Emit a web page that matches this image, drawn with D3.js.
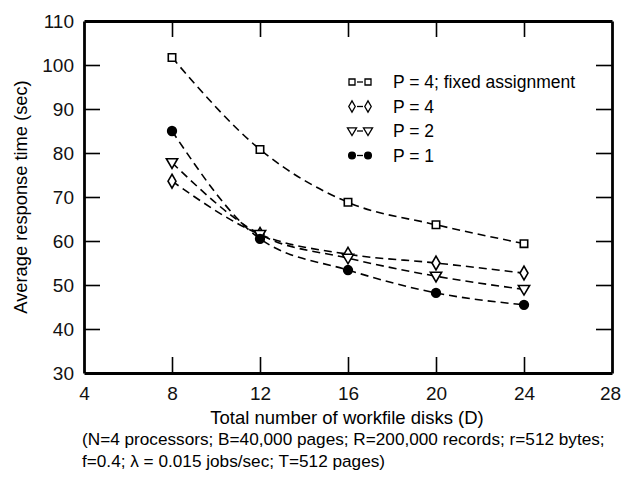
<!DOCTYPE html>
<html>
<head>
<meta charset="utf-8">
<script src="https://cdn.jsdelivr.net/npm/d3@7"></script>
<style>
  body { margin: 0; background: #fff; }
  svg { font-family: "Liberation Sans", Arial, Helvetica, sans-serif; }
  .frame text { font-size: 19px; fill: #111; }
</style>
</head>
<body>
<svg id="main" width="621" height="481"></svg>
<script>
var disks = [8, 12, 16, 20, 24];
var fixedP4 = [101.7, 80.8, 68.8, 63.7, 59.4];
var p4 = [73.6, 61.5, 57.0, 55.0, 52.7];
var p2 = [77.8, 61.5, 56.1, 52.0, 49.0];
var p1 = [85.0, 60.5, 53.4, 48.2, 45.5];
var seriesNames = ["P = 4; fixed assignment", "P = 4", "P = 2", "P = 1"];
var xTicks = [4, 8, 12, 16, 20, 24, 28];
var yTicks = [30, 40, 50, 60, 70, 80, 90, 100, 110];

var margin = {top: 21, right: 9, bottom: 108, left: 84};
var svg = d3.select("#main"),
    width = +svg.attr("width") - margin.left - margin.right,
    height = +svg.attr("height") - margin.top - margin.bottom;

var xScale = d3.scaleLinear().domain([4, 28]).range([0, width]),
    yScale = d3.scaleLinear().domain([30, 110]).range([height, 0]),
    g = svg.append("g")
        .attr("transform", "translate(" + margin.left + "," + margin.top + ")");

function styleFrame(a) {
    a.select(".domain").attr("stroke", "#000").attr("stroke-width", 2.8);
    a.selectAll(".tick line").attr("stroke", "#000").attr("stroke-width", 1.6);
}

// frame: axes with inward ticks on all four sides
g.append("g")
    .attr("class", "frame")
    .attr("transform", "translate(0," + height + ")")
    .call(d3.axisBottom(xScale).tickValues(xTicks).tickSizeInner(-16).tickSizeOuter(0).tickPadding(14))
    .call(styleFrame)
    .call(function(a) {
        a.selectAll(".tick line").filter(function(d) { return d == 4 || d == 28; }).remove();
        a.selectAll(".tick text").filter(function(d) { return d == 28; }).attr("dx", "-2");
    });

g.append("g")
    .attr("class", "frame")
    .call(d3.axisLeft(yScale).tickValues(yTicks).tickSizeInner(-16).tickSizeOuter(0).tickPadding(10))
    .call(styleFrame)
    .call(function(a) { a.selectAll(".tick line").filter(function(d) { return d == 30 || d == 110; }).remove(); });

g.append("g")
    .attr("class", "frame")
    .call(d3.axisTop(xScale).tickValues(xTicks.slice(1, -1)).tickSizeInner(-16).tickSizeOuter(0).tickFormat(""))
    .call(styleFrame);

g.append("g")
    .attr("class", "frame")
    .attr("transform", "translate(" + width + ",0)")
    .call(d3.axisRight(yScale).tickValues(yTicks.slice(1, -1)).tickSizeInner(-16).tickSizeOuter(0).tickFormat(""))
    .call(styleFrame);

// axis titles
svg.append("text")
    .attr("x", 347)
    .attr("y", 424)
    .attr("text-anchor", "middle")
    .style("font-size", "18.5px")
    .text("Total number of workfile disks (D)");

svg.append("text")
    .attr("transform", "translate(27,197) rotate(-90)")
    .attr("text-anchor", "middle")
    .style("font-size", "18.3px")
    .text("Average response time (sec)");

var caption = ["(N=4 processors; B=40,000 pages; R=200,000 records; r=512 bytes;",
               "f=0.4; \u03bb = 0.015 jobs/sec; T=512 pages)"];
svg.selectAll(".caption")
    .data(caption)
    .enter().append("text")
    .attr("class", "caption")
    .attr("x", 82)
    .attr("y", function(d, i) { return 445 + i * 22; })
    .style("font-size", "17.2px")
    .text(function(d) { return d; });

// series
var triDown = {
    draw: function(ctx, size) {
        var s = Math.sqrt(size / 0.433) / 2;
        ctx.moveTo(-s, -s * 0.7);
        ctx.lineTo(s, -s * 0.7);
        ctx.lineTo(0, s * 1.0);
        ctx.closePath();
    }
};
var series = [
    {name: seriesNames[0], values: fixedP4, sym: d3.symbolSquare, size: 55, fill: "#fff"},
    {name: seriesNames[1], values: p4, sym: d3.symbolDiamond, size: 55, fill: "#fff"},
    {name: seriesNames[2], values: p2, sym: triDown, size: 55, fill: "#fff"},
    {name: seriesNames[3], values: p1, sym: d3.symbolCircle, size: 60, fill: "#000"}
];

var line = d3.line()
    .x(function(d, i) { return xScale(disks[i]); })
    .y(function(d) { return yScale(d); })
    .curve(d3.curveMonotoneX);

series.forEach(function(s) {
    g.append("path")
        .attr("class", "line")
        .attr("d", line(s.values))
        .attr("fill", "none")
        .attr("stroke", "#000")
        .attr("stroke-width", 1.6)
        .attr("stroke-dasharray", "8,5");
});

series.forEach(function(s) {
    g.selectAll(null)
        .data(s.values)
        .enter().append("path")
        .attr("transform", function(d, i) { return "translate(" + xScale(disks[i]) + "," + yScale(d) + ")"; })
        .attr("d", d3.symbol().type(s.sym).size(s.size))
        .attr("fill", s.fill)
        .attr("stroke", "#000")
        .attr("stroke-width", 1.6);
});

// legend
var legend = svg.append("g").attr("transform", "translate(352,82)");
series.forEach(function(s, i) {
    var row = legend.append("g").attr("transform", "translate(0," + (i * 24.5) + ")");
    row.append("line")
        .attr("x1", 5).attr("x2", 11)
        .attr("stroke", "#000").attr("stroke-width", 1.3);
    [0, 16].forEach(function(dx) {
        row.append("path")
            .attr("transform", "translate(" + dx + ",0)")
            .attr("d", d3.symbol().type(s.sym).size(36))
            .attr("fill", s.fill)
            .attr("stroke", "#000")
            .attr("stroke-width", 1.3);
    });
    row.append("text")
        .attr("x", 41)
        .attr("y", 6)
        .style("font-size", "17.5px")
        .text(s.name);
});
</script>
</body>
</html>
